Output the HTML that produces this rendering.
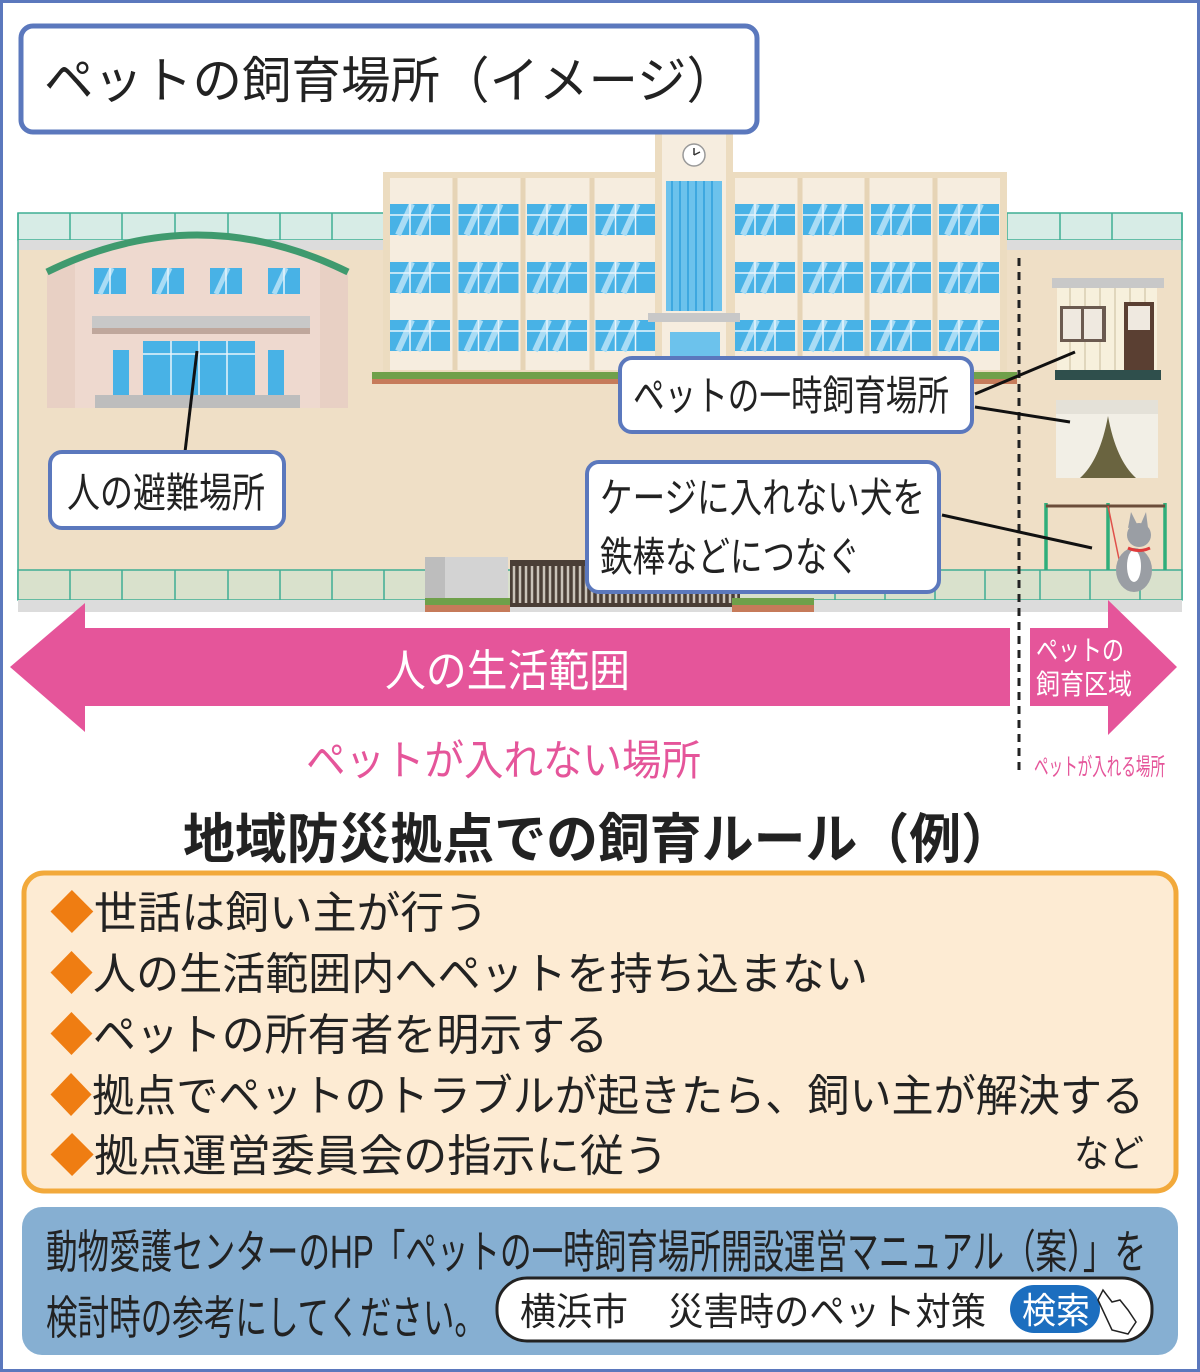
<!DOCTYPE html>
<html><head><meta charset="utf-8"><style>
html,body{margin:0;padding:0;background:#fff}
svg{display:block}
text{font-family:"Liberation Sans","Noto Sans CJK JP",sans-serif}
</style></head><body>
<svg width="1200" height="1372" viewBox="0 0 1200 1372" xmlns="http://www.w3.org/2000/svg">
<defs>
<pattern id="win" x="390" y="204" width="68.5" height="58" patternUnits="userSpaceOnUse">
<rect x="0" y="0" width="60" height="31" fill="#48b2e6"/>
<path d="M8 31 L22 0 M28 31 L42 0" stroke="#a9dcf5" stroke-width="6"/>
<path d="M20 0V31M40 0V31M0 11H60" stroke="#e8f4fb" stroke-width="1.5"/>
</pattern>
<pattern id="win2" x="735" y="204" width="68" height="58" patternUnits="userSpaceOnUse">
<rect x="0" y="0" width="60" height="31" fill="#48b2e6"/>
<path d="M8 31 L22 0 M28 31 L42 0" stroke="#a9dcf5" stroke-width="6"/>
<path d="M20 0V31M40 0V31M0 11H60" stroke="#e8f4fb" stroke-width="1.5"/>
</pattern>
<pattern id="gw" x="94" y="268" width="58" height="30" patternUnits="userSpaceOnUse">
<rect x="0" y="0" width="32" height="26" fill="#48b2e6"/>
<path d="M6 26 L18 0" stroke="#a9dcf5" stroke-width="5"/>
<path d="M16 0V26" stroke="#e8f4fb" stroke-width="1.5"/>
</pattern>
</defs>
<rect x="1.5" y="1.5" width="1197" height="1369" fill="#fff" stroke="#5b78bd" stroke-width="3"/>
<rect x="18" y="240" width="1164" height="372" fill="#efdfc6"/>
<rect x="18" y="213" width="366" height="27" fill="#d7ece6" stroke="#3fae94" stroke-width="1.5"/>
<rect x="1007" y="213" width="175" height="27" fill="#d7ece6" stroke="#3fae94" stroke-width="1.5"/>
<rect x="18" y="240" width="366" height="10" fill="#dcdcdc"/>
<rect x="1007" y="240" width="175" height="10" fill="#dcdcdc"/>
<path d="M70 213V240M122 213V240M175 213V240M228 213V240M280 213V240M332 213V240M1060 213V240M1112 213V240" stroke="#3fae94" stroke-width="1.5"/>
<line x1="18" y1="213" x2="18" y2="600" stroke="#3fae94" stroke-width="1.5"/>
<line x1="1182" y1="213" x2="1182" y2="600" stroke="#3fae94" stroke-width="1.5"/>
<rect x="18" y="570" width="1164" height="30" fill="#d9e1cc" stroke="#3fae94" stroke-width="1.5"/>
<path d="M70 570V600M122 570V600M175 570V600M228 570V600M280 570V600M332 570V600M384 570V600M835 570V600M885 570V600M935 570V600M985 570V600M1040 570V600M1090 570V600M1140 570V600" stroke="#3fae94" stroke-width="1.5"/>
<rect x="18" y="600" width="1164" height="12" fill="#dcdcdc"/>
<rect x="425" y="557" width="83" height="50" fill="#d3d3d3"/>
<rect x="425" y="557" width="20" height="50" fill="#bdbdbd"/>
<rect x="510" y="560" width="230" height="47" fill="#4a3e36"/>
<path d="M514 566V603M520 566V603M526 566V603M532 566V603M538 566V603M544 566V603M550 566V603M556 566V603M562 566V603M568 566V603M574 566V603M580 566V603M586 566V603M592 566V603M598 566V603M604 566V603M610 566V603M616 566V603M622 566V603M628 566V603M634 566V603M640 566V603M646 566V603M652 566V603M658 566V603M664 566V603M670 566V603M676 566V603M682 566V603M688 566V603M694 566V603M700 566V603M706 566V603M712 566V603M718 566V603M724 566V603M730 566V603M736 566V603" stroke="#c9c2b8" stroke-width="2.5"/>
<rect x="425" y="598" width="85" height="7" fill="#6fa04a"/><rect x="425" y="605" width="85" height="7" fill="#c67b5a"/>
<rect x="732" y="598" width="82" height="7" fill="#6fa04a"/><rect x="732" y="605" width="82" height="7" fill="#c67b5a"/>
<!-- main building -->
<rect x="383" y="172" width="624" height="203" fill="#ecdcc0"/>
<rect x="390" y="178" width="265" height="192" fill="#f6eddf"/>
<rect x="735" y="178" width="265" height="192" fill="#f6eddf"/>
<path d="M455 178V370M523 178V370M592 178V370M800 178V370M867 178V370M935 178V370" stroke="#e6d4b6" stroke-width="5"/>
<rect x="390" y="204" width="270" height="150" fill="url(#win)"/>
<rect x="735" y="204" width="270" height="150" fill="url(#win2)"/>
<rect x="655" y="133" width="78" height="242" fill="#ecdcc0"/>
<rect x="662" y="133" width="64" height="242" fill="#f6eddf"/>
<rect x="666" y="181" width="56" height="130" fill="#6cc2ec"/>
<path d="M672 181V311M680 181V311M688 181V311M696 181V311M704 181V311M712 181V311" stroke="#3ea8e0" stroke-width="2"/>
<circle cx="694" cy="155" r="11" fill="#fff" stroke="#999" stroke-width="1.5"/>
<path d="M694 155V148M694 155L700 152" stroke="#333" stroke-width="1.5"/>
<rect x="648" y="313" width="92" height="9" fill="#c8c8c8"/>
<rect x="670" y="332" width="50" height="43" fill="#6cc2ec"/>
<rect x="372" y="372" width="645" height="7" fill="#6fa04a"/>
<rect x="372" y="379" width="645" height="5" fill="#c67b5a"/>
<!-- gym -->
<path d="M47 272 Q197 198 348 272 L348 408 L47 408 Z" fill="#e8d0c4"/>
<path d="M75 258 Q197 208 320 258 L320 408 L75 408 Z" fill="#eed9cf"/>
<path d="M47 272 Q197 198 348 272" fill="none" stroke="#3f9a6e" stroke-width="7"/>
<rect x="94" y="268" width="220" height="28" fill="url(#gw)"/>
<rect x="92" y="316" width="218" height="12" fill="#c8c8c8"/>
<rect x="92" y="328" width="218" height="6" fill="#bfa79c"/>
<rect x="143" y="341" width="112" height="55" fill="#48b2e6"/>
<path d="M171 341V396M199 341V396M227 341V396M143 354H255" stroke="#e8f4fb" stroke-width="1.5"/>
<rect x="113" y="350" width="16" height="46" fill="#48b2e6"/>
<rect x="268" y="350" width="16" height="46" fill="#48b2e6"/>
<rect x="95" y="395" width="205" height="13" fill="#bdbdbd"/>
<!-- right side -->
<rect x="1052" y="278" width="112" height="10" fill="#c8c8c8"/>
<rect x="1057" y="288" width="100" height="86" fill="#f7f0dc"/>
<path d="M1070 288V370M1085 288V370M1100 288V370M1115 288V370M1130 288V370M1145 288V370" stroke="#e0d6bc" stroke-width="2"/>
<rect x="1060" y="306" width="46" height="36" fill="#6b5a50"/>
<rect x="1063" y="309" width="18" height="30" fill="#efe9e0"/><rect x="1084" y="309" width="18" height="30" fill="#efe9e0"/>
<rect x="1124" y="302" width="30" height="70" fill="#5a3f32"/>
<rect x="1128" y="306" width="22" height="24" fill="#efe9e0"/>
<rect x="1055" y="370" width="106" height="10" fill="#2f4f4c"/>
<rect x="1056" y="400" width="102" height="78" fill="#f2efe6"/>
<rect x="1056" y="400" width="102" height="14" fill="#e4e1d8"/>
<path d="M1080 478 Q1100 460 1108 416 Q1116 460 1136 478Z" fill="#6a6440"/>
<path d="M1046 503V570M1165 503V570M1108 503V570" stroke="#2fae7a" stroke-width="3.5"/>
<path d="M1046 506H1108M1108 506H1165" stroke="#6b4d3a" stroke-width="3"/>
<path d="M1108 506 L1125 588" stroke="#e0504a" stroke-width="1.5"/>
<ellipse cx="1134" cy="570" rx="18" ry="22" fill="#9a9ea4"/>
<ellipse cx="1134" cy="566" rx="7" ry="16" fill="#fff"/>
<circle cx="1139" cy="535" r="12" fill="#9a9ea4"/>
<path d="M1128 528 L1131 512 L1138 526Z M1140 526 L1146 512 L1148 528Z" fill="#9a9ea4"/>
<path d="M1128 548 Q1139 553 1150 548" stroke="#e03a3a" stroke-width="3" fill="none"/>
<line x1="1019" y1="258" x2="1019" y2="775" stroke="#222" stroke-width="3" stroke-dasharray="8 6"/>
<line x1="197" y1="351" x2="185" y2="452" stroke="#111" stroke-width="3"/>
<line x1="975" y1="394" x2="1075" y2="352" stroke="#111" stroke-width="3"/>
<line x1="975" y1="407" x2="1070" y2="422" stroke="#111" stroke-width="3"/>
<line x1="942" y1="515" x2="1092" y2="548" stroke="#111" stroke-width="3"/>
<rect x="50" y="452" width="234" height="76" rx="12" fill="#fff" stroke="#5b78bd" stroke-width="4"/>
<text x="67" y="507" font-size="41" fill="#222" textLength="198" lengthAdjust="spacingAndGlyphs">人の避難場所</text>
<rect x="620" y="358" width="352" height="74" rx="12" fill="#fff" stroke="#5b78bd" stroke-width="4"/>
<text x="633" y="410" font-size="41" fill="#222" textLength="316" lengthAdjust="spacingAndGlyphs">ペットの一時飼育場所</text>
<rect x="587" y="462" width="352" height="130" rx="12" fill="#fff" stroke="#5b78bd" stroke-width="4"/>
<text x="600" y="512" font-size="41" fill="#222" textLength="325" lengthAdjust="spacingAndGlyphs">ケージに入れない犬を</text>
<text x="600" y="571" font-size="41" fill="#222" textLength="260" lengthAdjust="spacingAndGlyphs">鉄棒などにつなぐ</text>
<rect x="21" y="26" width="736" height="106" rx="12" fill="#fff" stroke="#5b78bd" stroke-width="5"/>
<text x="44" y="98" font-size="50" fill="#222" textLength="692" lengthAdjust="spacingAndGlyphs">ペットの飼育場所（イメージ）</text>
<path d="M10 667 L85 603 L85 628 L1010 628 L1010 706 L85 706 L85 732Z" fill="#e5559a"/>
<path d="M1030 628 L1108 628 L1108 600 L1177 667 L1108 735 L1108 706 L1030 706Z" fill="#e5559a"/>
<text x="385" y="686" font-size="44" fill="#fff" textLength="245" lengthAdjust="spacingAndGlyphs">人の生活範囲</text>
<text x="1036" y="660" font-size="28" fill="#fff" textLength="88" lengthAdjust="spacingAndGlyphs">ペットの</text>
<text x="1036" y="694" font-size="28" fill="#fff" textLength="96" lengthAdjust="spacingAndGlyphs">飼育区域</text>
<text x="306" y="775" font-size="42" fill="#e5559a" textLength="395" lengthAdjust="spacingAndGlyphs">ペットが入れない場所</text>
<text x="1034" y="775" font-size="24" fill="#e5559a" textLength="131" lengthAdjust="spacingAndGlyphs">ペットが入れる場所</text>
<text x="183" y="858" font-size="54" font-weight="bold" fill="#222" textLength="830" lengthAdjust="spacingAndGlyphs">地域防災拠点での飼育ルール（例）</text>
<rect x="24" y="873" width="1152" height="318" rx="20" fill="#fdebd3" stroke="#f2a93b" stroke-width="5"/>
<g font-size="44" fill="#222">
<text x="50" y="928" textLength="438" lengthAdjust="spacingAndGlyphs"><tspan fill="#ef7d12">◆</tspan>世話は飼い主が行う</text>
<text x="50" y="989" textLength="818" lengthAdjust="spacingAndGlyphs"><tspan fill="#ef7d12">◆</tspan>人の生活範囲内へペットを持ち込まない</text>
<text x="50" y="1050" textLength="558" lengthAdjust="spacingAndGlyphs"><tspan fill="#ef7d12">◆</tspan>ペットの所有者を明示する</text>
<text x="50" y="1111" textLength="1094" lengthAdjust="spacingAndGlyphs"><tspan fill="#ef7d12">◆</tspan>拠点でペットのトラブルが起きたら、飼い主が解決する</text>
<text x="50" y="1171" textLength="618" lengthAdjust="spacingAndGlyphs"><tspan fill="#ef7d12">◆</tspan>拠点運営委員会の指示に従う</text>
<text x="1074" y="1167" font-size="38" textLength="70" lengthAdjust="spacingAndGlyphs">など</text>
</g>
<rect x="22" y="1207" width="1156" height="148" rx="20" fill="#86afd2"/>
<text x="46" y="1268" font-size="46" fill="#222" textLength="1100" lengthAdjust="spacingAndGlyphs">動物愛護センターのHP「ペットの一時飼育場所開設運営マニュアル（案）」を</text>
<text x="46" y="1334" font-size="46" fill="#222" textLength="440" lengthAdjust="spacingAndGlyphs">検討時の参考にしてください。</text>
<rect x="497" y="1278" width="655" height="63" rx="30" fill="#fff" stroke="#222" stroke-width="3"/>
<text x="520" y="1325" font-size="38" fill="#222" textLength="108" lengthAdjust="spacingAndGlyphs">横浜市</text>
<text x="668" y="1325" font-size="38" fill="#222" textLength="318" lengthAdjust="spacingAndGlyphs">災害時のペット対策</text>
<rect x="1010" y="1285" width="90" height="48" rx="24" fill="#1c6ebf"/>
<text x="1022" y="1323" font-size="36" fill="#fff" textLength="68" lengthAdjust="spacingAndGlyphs">検索</text>
<path d="M1098 1300 L1103 1290 L1112 1302 L1120 1300 L1128 1310 L1136 1322 L1128 1334 L1112 1330 Z" fill="#fff" stroke="#222" stroke-width="1.5"/>
</svg>
</body></html>
